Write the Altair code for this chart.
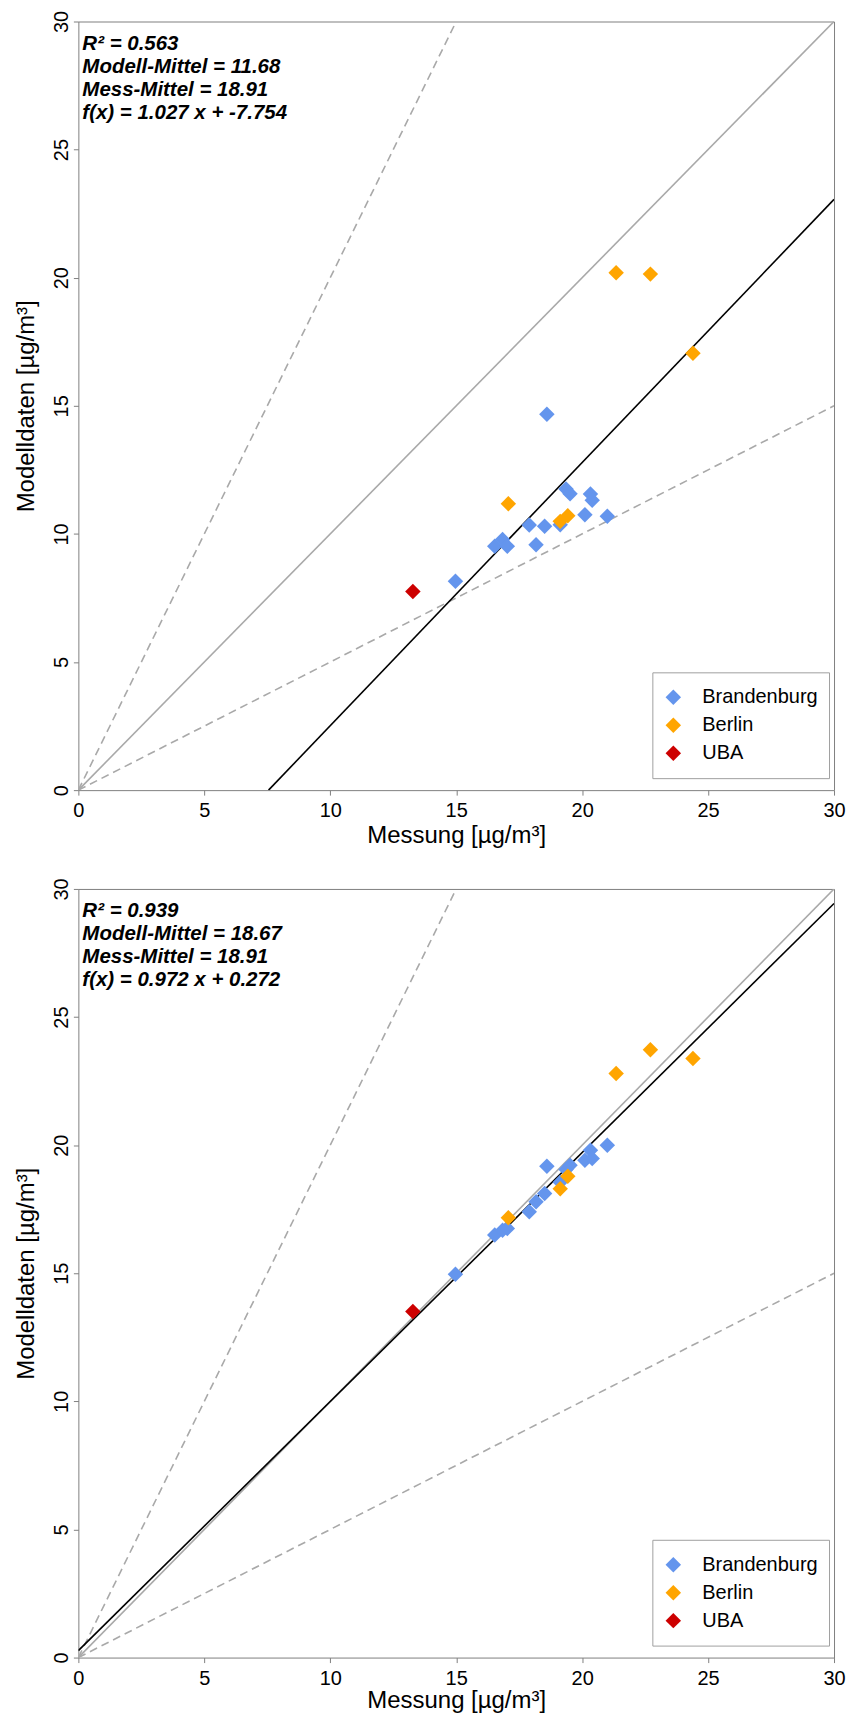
import altair as alt
import pandas as pd

FONT = "Liberation Sans"

# ---------------- data ----------------
regions = ["Brandenburg"] * 15 + ["Berlin"] * 6 + ["UBA"]
messung = [14.97, 16.53, 16.84, 17.03, 17.90, 18.17, 18.51, 18.60, 19.13, 19.36,
           19.52, 20.11, 20.33, 20.40, 21.00,
           17.07, 19.13, 19.43, 21.35, 22.71, 24.40,
           13.28]
modell_oben = [8.15, 9.52, 9.78, 9.52, 10.35, 9.58, 10.30, 14.67, 10.36, 11.75,
               11.57, 10.75, 11.56, 11.31, 10.69,
               11.18, 10.49, 10.71, 20.19, 20.14, 17.05,
               7.75]
modell_unten = [14.96, 16.49, 16.68, 16.75, 17.40, 17.79, 18.11, 19.18, 18.55, 19.05,
                19.22, 19.41, 19.80, 19.48, 20.00,
                17.17, 18.30, 18.79, 22.80, 23.72, 23.38,
                13.51]

stats_oben = ["R² = 0.563", "Modell-Mittel = 11.68", "Mess-Mittel = 18.91",
              "f(x) = 1.027 x + -7.754"]
stats_unten = ["R² = 0.939", "Modell-Mittel = 18.67", "Mess-Mittel = 18.91",
               "f(x) = 0.972 x + 0.272"]
fit_oben = (1.027, -7.754)
fit_unten = (0.972, 0.272)

region_order = ["Brandenburg", "Berlin", "UBA"]
region_colors = ["#6495ED", "#FFA500", "#CD0000"]

ref_slopes = [1.0, 2.0, 0.5]
ref_kinds = ["solid", "dash", "dash"]

ticks = [0, 5, 10, 15, 20, 25, 30]
LO, HI = 0, 30

W, H = 757, 770


def segment(a, b):
    x0 = max(LO, (LO - b) / a)
    x1 = min(HI, (HI - b) / a)
    return [x0, x1], [a * x0 + b, a * x1 + b]


def line_df(slopes, intercepts, kinds):
    rows = []
    for i, (a, b, k) in enumerate(zip(slopes, intercepts, kinds)):
        xs, ys = segment(a, b)
        for xv, yv in zip(xs, ys):
            rows.append({"x": xv, "y": yv, "id": i, "kind": k})
    return pd.DataFrame(rows)


def make_panel(model, stats, fit, title_y):
    scale = alt.Scale(domain=[LO, HI], nice=False, zero=False)
    x_axis = alt.Axis(values=ticks, title="Messung [µg/m³]", titleX=W / 2, titleY=title_y,
                      titleAlign="center", titleBaseline="alphabetic", titleAngle=0)
    y_axis = alt.Axis(values=ticks, title="Modelldaten [µg/m³]", labelAngle=270,
                      labelAlign="center", labelBaseline="alphabetic",
                      titleAngle=270, titleX=-52, titleY=H / 2,
                      titleAlign="center", titleBaseline="middle")
    xe = alt.X("x:Q", scale=scale, axis=x_axis)
    ye = alt.Y("y:Q", scale=scale, axis=y_axis)

    refs = line_df(ref_slopes, [0, 0, 0], ref_kinds)
    solid = alt.Chart(refs[refs.kind == "solid"]).mark_line(
        color="#A9A9A9", strokeWidth=1.6, clip=True).encode(x=xe, y=ye, detail="id:N")
    dashed = alt.Chart(refs[refs.kind == "dash"]).mark_line(
        color="#A9A9A9", strokeWidth=1.6, strokeDash=[8, 5], clip=True).encode(
        x=xe, y=ye, detail="id:N")
    fitdf = line_df([fit[0]], [fit[1]], ["fit"])
    fitline = alt.Chart(fitdf).mark_line(color="black", strokeWidth=1.6, clip=True).encode(
        x=xe, y=ye)

    pts = pd.DataFrame({"x": messung, "y": model, "Region": regions})
    points = alt.Chart(pts).mark_point(shape="diamond", filled=True, size=240, opacity=1,
                                       strokeWidth=0).encode(
        x=xe, y=ye,
        color=alt.Color("Region:N",
                        scale=alt.Scale(domain=region_order, range=region_colors),
                        sort=region_order,
                        legend=alt.Legend(orient="none", legendX=575, legendY=652,
                                          direction="vertical", title=None, padding=11,
                                          strokeColor="#A0A0A0", fillColor="white",
                                          symbolType="diamond", symbolSize=240,
                                          symbolStrokeWidth=0, symbolOpacity=1,
                                          labelFont=FONT, labelFontSize=20,
                                          labelColor="black", labelOffset=19,
                                          clipHeight=28, rowPadding=0, cornerRadius=0)))

    text = alt.Chart(pd.DataFrame({"t": [0]})).mark_text(
        align="left", baseline="alphabetic", font=FONT, fontSize=20.5, fontStyle="italic",
        fontWeight="bold", lineHeight=23, color="black").encode(
        x=alt.value(4), y=alt.value(28.5), text=alt.value(stats))

    return alt.layer(solid, dashed, fitline, points, text).properties(width=W, height=H)


top = make_panel(modell_oben, stats_oben, fit_oben, 52.5)
bottom = make_panel(modell_unten, stats_unten, fit_unten, 50)

chart = alt.vconcat(top, bottom, spacing=99, bounds="flush").resolve_scale(
    color="independent").resolve_legend(color="independent").properties(
    padding={"left": 5.5, "top": 0, "right": 0, "bottom": 0}
).configure_view(stroke="#7F7F7F", strokeWidth=1).configure_axis(
    grid=False, domain=False, tickColor="#7F7F7F", tickSize=5, tickWidth=1,
    labelPadding=5.5, labelFont=FONT, labelFontSize=20, labelColor="black",
    labelFlush=False, labelOverlap=False, titleFont=FONT, titleFontSize=24,
    titleFontWeight="normal", titleColor="black")

chart.save("out.html", embed_options={"renderer": "svg", "actions": False})
